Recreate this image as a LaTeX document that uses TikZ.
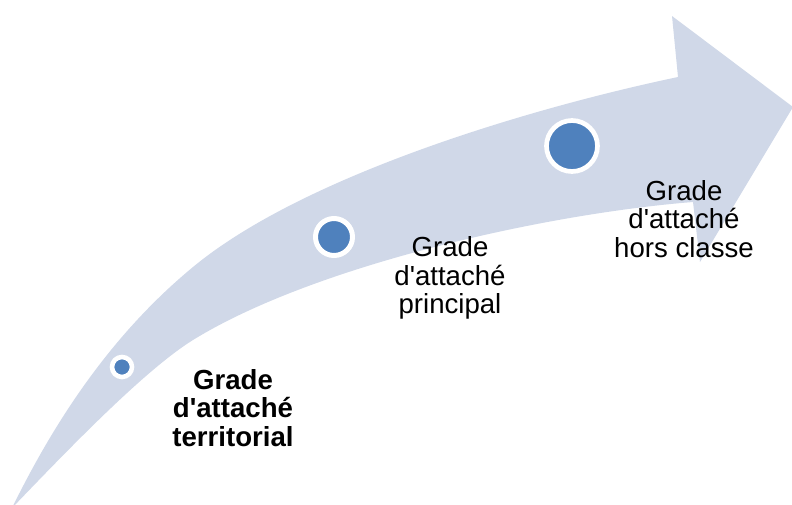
\documentclass[tikz,border=0pt]{standalone}
\usepackage{fontspec}
\setmainfont{Liberation Sans}[Ligatures=TeXOff]
\definecolor{bandgray}{HTML}{D0D8E8}
\definecolor{dotblue}{HTML}{4F81BD}

\begin{document}
\begin{tikzpicture}[x=1pt,y=-1pt,
        band/.style={fill=bandgray},
        dot/.style={circle,fill=dotblue,draw=white,inner sep=0pt},
        grade/.style={align=center,anchor=north,inner sep=0pt,
            font=\fontsize{27.6}{28.4}\selectfont},
        gradebold/.style={grade,font=\fontsize{27.6}{28.4}\selectfont\bfseries}]
        \useasboundingbox (0,0) rectangle (792,504);
        %\draw[help lines,step=50] (0,0) grid (792,504);
        \fill[band] (12,508) .. controls (60,410) and (118,329) .. (193,267)
            .. controls (303,176) and (528,108.5) .. (678,77)
            -- (672,16) -- (793,107) -- (700,262) -- (693,202)
            .. controls (543,214) and (313,266) .. (193,340)
            .. controls (143,371) and (62,456) .. (12,508) -- cycle;
        \foreach \pos/\d/\w [count=\i] in {{(122,367)}/20/4.6,{(334,237)}/37/5,{(572,146)}/51/4.7}
            \node[dot,minimum size=\d pt,line width=\w pt] (dot\i) at \pos {};
        \node[gradebold] (grade1) at (233,369) {Grade\\d'attaché\\territorial};
        \node[grade] (grade2) at (450,236.5) {Grade\\d'attaché\\principal};
        \node[grade] (grade3) at (684,180) {Grade\\d'attaché\\hors classe};
    \end{tikzpicture}
\end{document}
